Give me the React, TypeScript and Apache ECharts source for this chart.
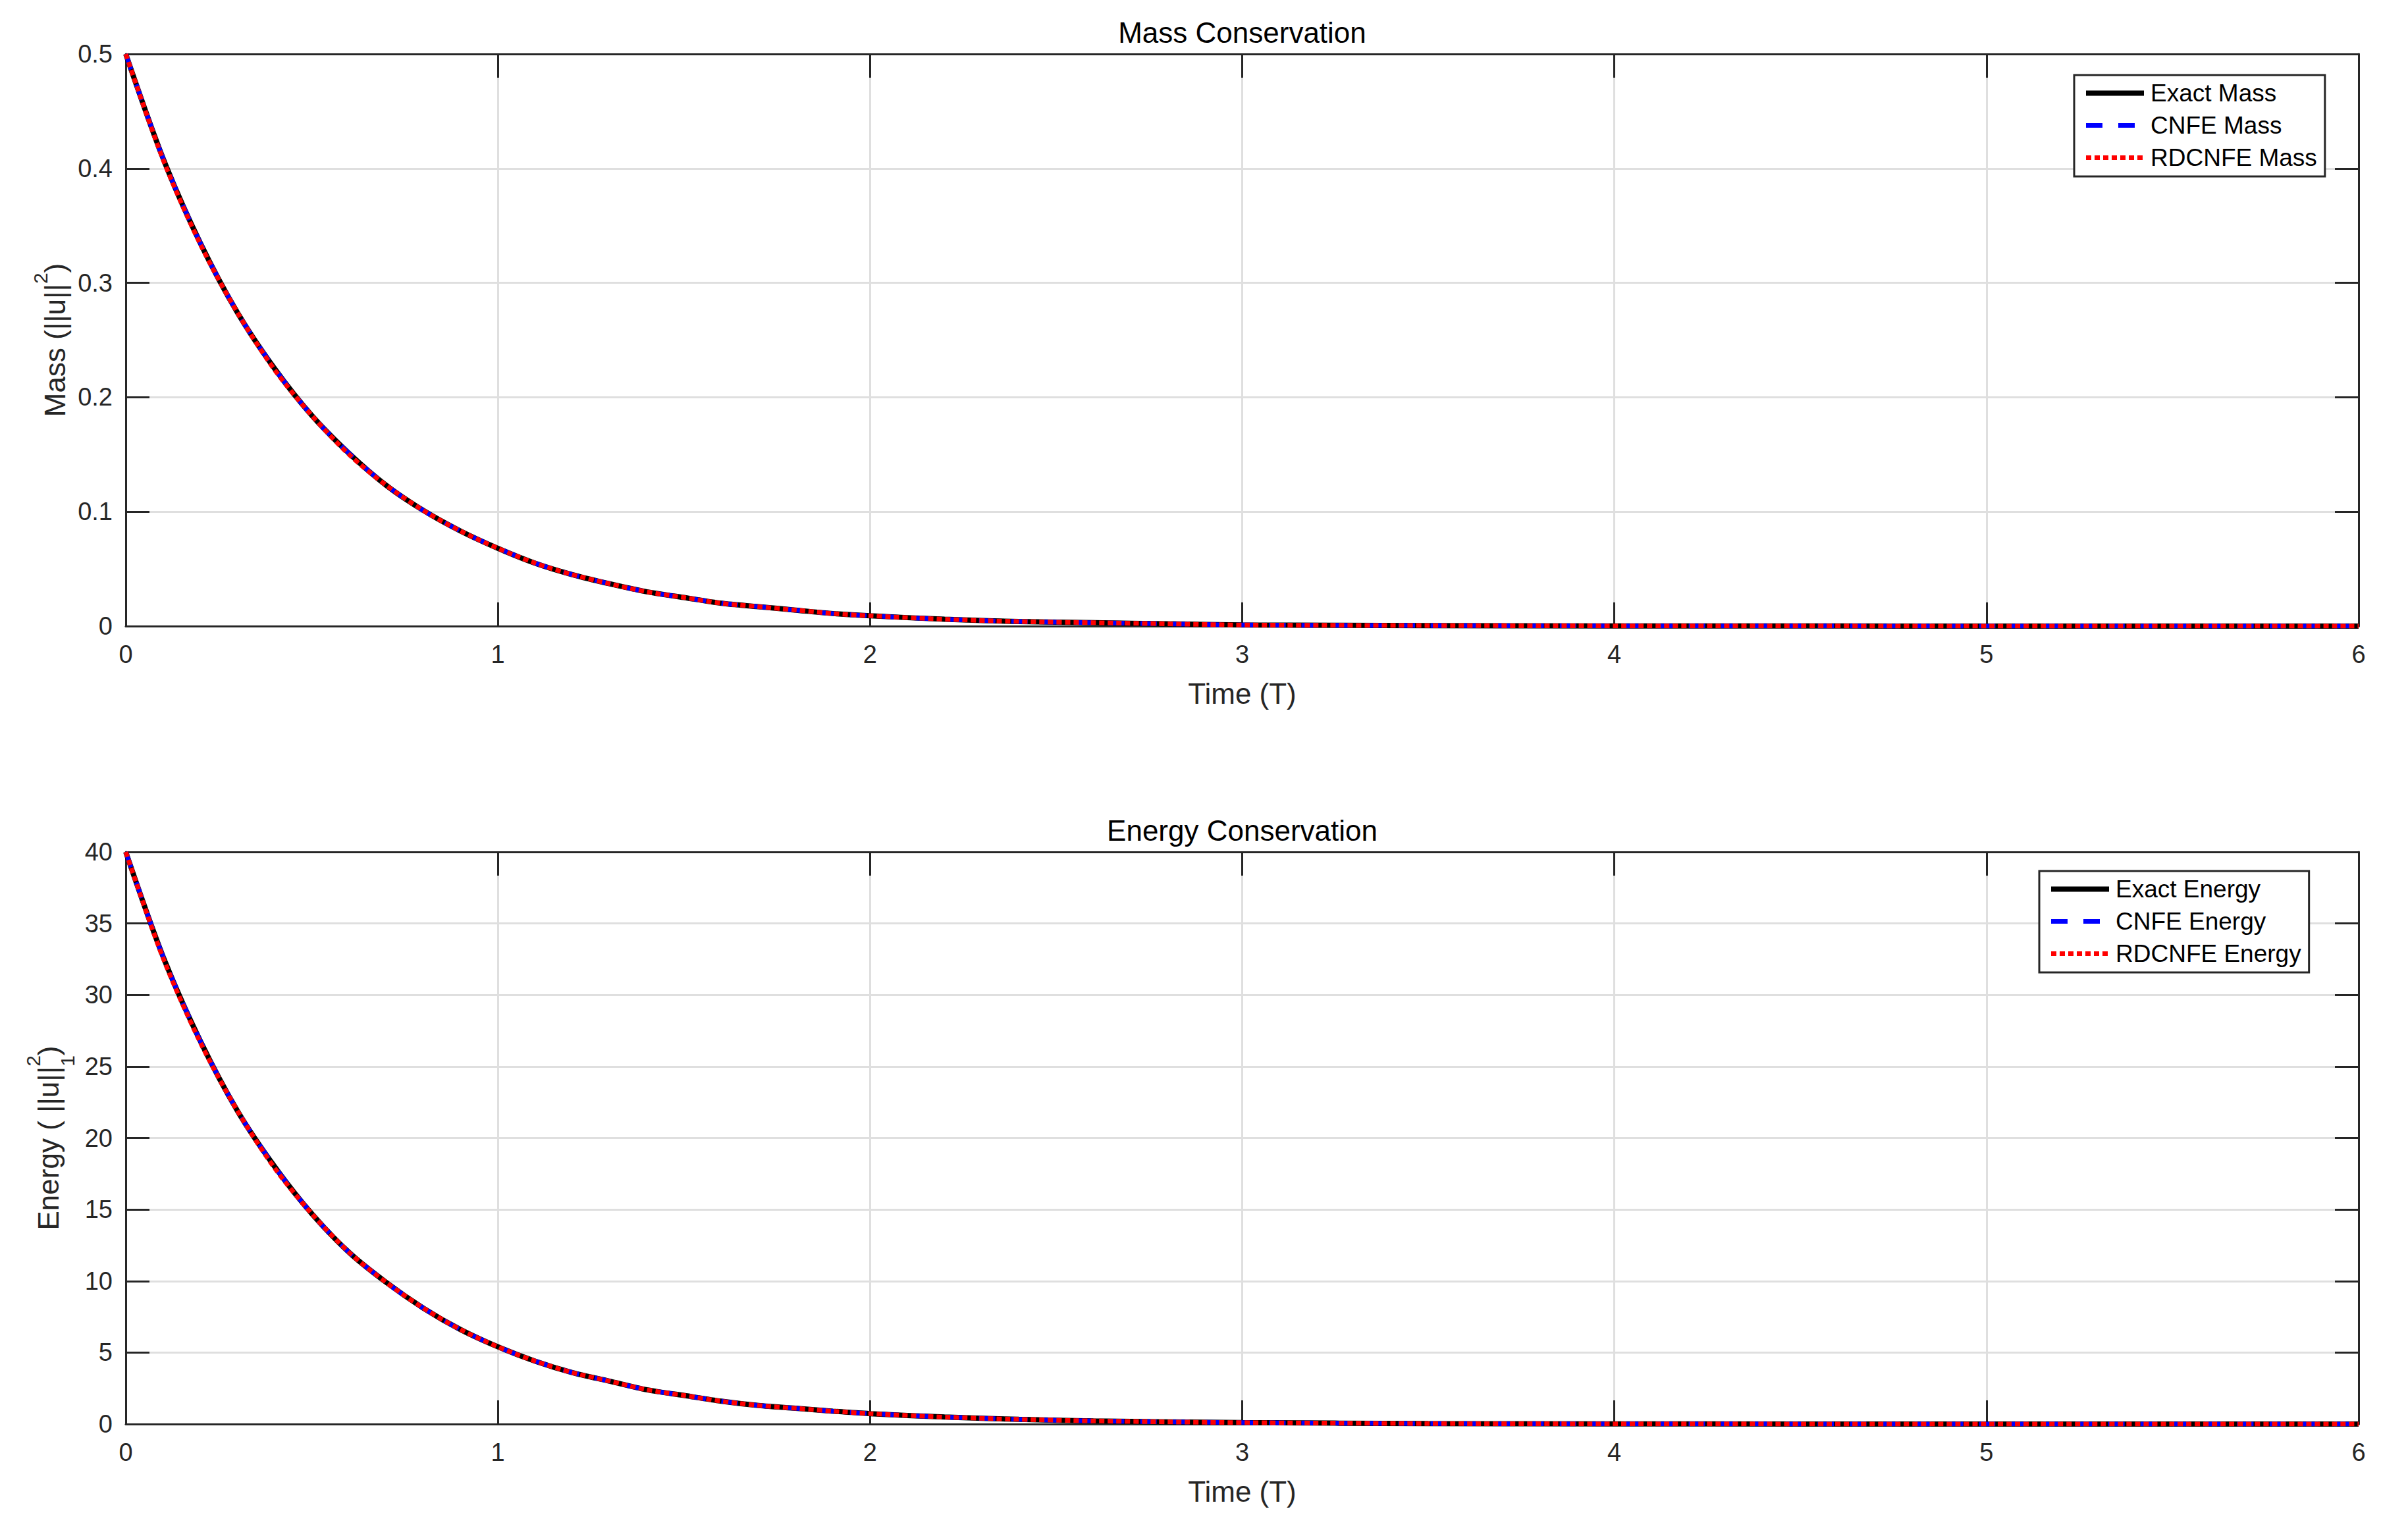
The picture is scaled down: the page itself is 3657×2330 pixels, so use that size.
import React, { useEffect, useRef } from "react";
import * as echarts from "echarts";

// ---------- data ----------
const timeT = [
  0, 0.1, 0.2, 0.3, 0.4, 0.5, 0.6, 0.7, 0.8, 0.9, 1.0, 1.1, 1.2, 1.3, 1.4, 1.5, 1.6, 1.7, 1.8, 1.9, 2.0,
  2.2, 2.4, 2.6, 2.8, 3.0, 3.5, 4.0, 4.5, 5.0, 5.5, 6.0,
];
const exactMass = [
  0.5, 0.409, 0.335, 0.274, 0.225, 0.184, 0.151, 0.123, 0.101, 0.083, 0.068, 0.055, 0.045, 0.037, 0.03, 0.025,
  0.02, 0.017, 0.014, 0.011, 0.009, 0.006, 0.004, 0.003, 0.002, 0.001, 0.0005, 0.0002, 0.0001, 0.00002, 0.00001, 0,
];
const cnfeMass = [
  0.5, 0.409, 0.335, 0.274, 0.225, 0.184, 0.151, 0.123, 0.101, 0.083, 0.068, 0.055, 0.045, 0.037, 0.03, 0.025,
  0.02, 0.017, 0.014, 0.011, 0.009, 0.006, 0.004, 0.003, 0.002, 0.001, 0.0005, 0.0002, 0.0001, 0.00002, 0.00001, 0,
];
const rdcnfeMass = [
  0.5, 0.408, 0.334, 0.274, 0.224, 0.184, 0.150, 0.123, 0.101, 0.083, 0.068, 0.055, 0.045, 0.037, 0.03, 0.025,
  0.02, 0.017, 0.014, 0.011, 0.009, 0.006, 0.004, 0.003, 0.002, 0.001, 0.0005, 0.0002, 0.0001, 0.00002, 0.00001, 0,
];
const exactEnergy = [
  40, 32.7, 26.8, 21.9, 18.0, 14.7, 12.0, 9.9, 8.1, 6.6, 5.4, 4.4, 3.6, 3.0, 2.4, 2.0, 1.6, 1.3, 1.1, 0.9, 0.73,
  0.49, 0.33, 0.22, 0.15, 0.1, 0.036, 0.013, 0.005, 0.002, 0.001, 0,
];
const cnfeEnergy = [
  40, 32.7, 26.8, 21.9, 18.0, 14.7, 12.0, 9.9, 8.1, 6.6, 5.4, 4.4, 3.6, 3.0, 2.4, 2.0, 1.6, 1.3, 1.1, 0.9, 0.73,
  0.49, 0.33, 0.22, 0.15, 0.1, 0.036, 0.013, 0.005, 0.002, 0.001, 0,
];
const rdcnfeEnergy = [
  40, 32.6, 26.7, 21.9, 17.9, 14.7, 12.0, 9.9, 8.1, 6.6, 5.4, 4.4, 3.6, 3.0, 2.4, 2.0, 1.6, 1.3, 1.1, 0.9, 0.73,
  0.49, 0.33, 0.22, 0.15, 0.1, 0.036, 0.013, 0.005, 0.002, 0.001, 0,
];
const massNames = ["Exact Mass", "CNFE Mass", "RDCNFE Mass"];
const energyNames = ["Exact Energy", "CNFE Energy", "RDCNFE Energy"];
const titles = ["Mass Conservation", "Energy Conservation"];
const xLabel = "Time (T)";

// ---------- styling ----------
const W = 3657;
const H = 2330;
const FONT = '"Liberation Sans", Arial, Helvetica, sans-serif';
const AX = "#262626";
const GRID = "#dfdfdf";
const plotLeft = 191;
const plotRight = 3582;
const tops = [82, 1294];
const plotH = 869;

const lineStyles = [
  { color: "#000000", width: 8, type: "solid" as any },
  { color: "#0000ff", width: 7, type: [25, 24] as any },
  { color: "#ff0000", width: 7, type: [8, 5] as any },
];

function pairs(ys: number[]) {
  return timeT.map((t, i) => [t, ys[i]]);
}

function measure(ctx: CanvasRenderingContext2D, text: string, size: number) {
  ctx.font = `${size}px ${FONT}`;
  return ctx.measureText(text).width;
}

type Part = { t: string; size: number; dy: number; noAdvance?: boolean };

function yLabel(ctx: CanvasRenderingContext2D, parts: Part[], baseX: number, centerY: number) {
  let total = 0;
  const widths = parts.map((p) => measure(ctx, p.t, p.size));
  parts.forEach((p, i) => {
    if (!p.noAdvance) total += widths[i];
  });
  let x = -total / 2;
  const children: any[] = [];
  parts.forEach((p, i) => {
    children.push({
      type: "text",
      x,
      y: p.dy,
      style: {
        text: p.t,
        fontSize: p.size,
        fontFamily: FONT,
        fill: AX,
        align: "left",
        verticalAlign: "middle",
        textAlign: "left",
        textVerticalAlign: "middle",
      },
    });
    if (!p.noAdvance) x += widths[i];
  });
  return { type: "group", x: baseX, y: centerY, rotation: Math.PI / 2, children };
}

export default function App() {
  const ref = useRef<HTMLDivElement>(null);
  useEffect(() => {
    if (!ref.current) return;
    const chart = echarts.init(ref.current, undefined, { renderer: "svg", width: W, height: H });
    const canvas = document.createElement("canvas");
    const ctx = canvas.getContext("2d") as CanvasRenderingContext2D;

    const grids = tops.map((t) => ({ left: plotLeft, top: t, width: plotRight - plotLeft, height: plotH, show: false }));

    const xAxes: any[] = [];
    const yAxes: any[] = [];
    const yMax = [0.5, 40];
    const yInt = [0.1, 5];
    [0, 1].forEach((g) => {
      xAxes.push({
        type: "value",
        gridIndex: g,
        min: 0,
        max: 6,
        interval: 1,
        position: "bottom",
        name: xLabel,
        nameLocation: "middle",
        nameGap: 80,
        nameTextStyle: { fontSize: 44, fontFamily: FONT, color: AX },
        axisLine: { show: true, onZero: false, lineStyle: { color: AX, width: 3 } },
        axisTick: { show: true, inside: true, length: 36, lineStyle: { color: AX, width: 3 } },
        axisLabel: { show: true, margin: 24, fontSize: 38, fontFamily: FONT, color: AX },
        splitLine: { show: true, lineStyle: { color: GRID, width: 3 } },
      });
      xAxes.push({
        type: "value",
        gridIndex: g,
        min: 0,
        max: 6,
        interval: 1,
        position: "top",
        axisLine: { show: true, onZero: false, lineStyle: { color: AX, width: 3 } },
        axisTick: { show: true, inside: true, length: 36, lineStyle: { color: AX, width: 3 } },
        axisLabel: { show: false },
        splitLine: { show: false },
      });
      yAxes.push({
        type: "value",
        gridIndex: g,
        min: 0,
        max: yMax[g],
        interval: yInt[g],
        position: "left",
        axisLine: { show: true, onZero: false, lineStyle: { color: AX, width: 3 } },
        axisTick: { show: true, inside: true, length: 36, lineStyle: { color: AX, width: 3 } },
        axisLabel: { show: true, margin: 20, fontSize: 38, fontFamily: FONT, color: AX },
        splitLine: { show: true, lineStyle: { color: GRID, width: 3 } },
      });
      yAxes.push({
        type: "value",
        gridIndex: g,
        min: 0,
        max: yMax[g],
        interval: yInt[g],
        position: "right",
        axisLine: { show: true, onZero: false, lineStyle: { color: AX, width: 3 } },
        axisTick: { show: true, inside: true, length: 36, lineStyle: { color: AX, width: 3 } },
        axisLabel: { show: false },
        splitLine: { show: false },
      });
    });

    const massData = [exactMass, cnfeMass, rdcnfeMass];
    const energyData = [exactEnergy, cnfeEnergy, rdcnfeEnergy];
    const series: any[] = [];
    const addSeries = (names: string[], data: number[][], axisIdx: number) => {
      data.forEach((d, i) => {
        series.push({
          type: "line",
          name: names[i],
          xAxisIndex: axisIdx,
          yAxisIndex: axisIdx,
          data: pairs(d),
          showSymbol: false,
          symbol: "none",
          smooth: 0.3,
          lineStyle: { ...lineStyles[i], cap: "butt" },
          color: lineStyles[i].color,
          z: 3 + i,
        });
      });
    };
    addSeries(massNames, massData, 0);
    addSeries(energyNames, energyData, 2);

    const legendData = (names: string[]) =>
      names.map((n, i) => ({
        name: n,
        lineStyle: { color: lineStyles[i].color, width: lineStyles[i].width, type: lineStyles[i].type, cap: "butt", opacity: 1 },
        itemStyle: { opacity: 0 },
      }));

    const legendCommon = {
      orient: "vertical",
      itemWidth: 88,
      itemHeight: 40,
      itemGap: 12,
      padding: [9, 12, 10, 14],
      borderWidth: 3,
      borderColor: AX,
      backgroundColor: "#ffffff",
      borderRadius: 0,
      textStyle: { fontSize: 37, fontFamily: FONT, color: "#000", padding: [0, 0, 0, 5] },
      itemStyle: { opacity: 0 },
      selectedMode: false,
    };

    const graphic: any[] = [
      yLabel(
        ctx,
        [
          { t: "Mass (||u||", size: 44, dy: -15 },
          { t: "2", size: 30, dy: -37 },
          { t: ")", size: 44, dy: -15 },
        ],
        98,
        tops[0] + plotH / 2
      ),
      yLabel(
        ctx,
        [
          { t: "Energy ( ||u||", size: 44, dy: -15 },
          { t: "2", size: 30, dy: -38, noAdvance: true },
          { t: "1", size: 30, dy: 14 },
          { t: ")", size: 44, dy: -15 },
        ],
        88,
        tops[1] + plotH / 2
      ),
    ];

    chart.setOption({
      animation: false,
      backgroundColor: "#ffffff",
      title: titles.map((t, i) => ({
        text: t,
        left: (plotLeft + plotRight) / 2,
        textAlign: "center",
        top: tops[i] - 55,
        textStyle: { fontSize: 44, fontWeight: "normal", fontFamily: FONT, color: "#000" },
        padding: 0,
      })),
      grid: grids,
      xAxis: xAxes,
      yAxis: yAxes,
      legend: [
        { ...legendCommon, data: legendData(massNames), left: 3150, top: 114 },
        { ...legendCommon, data: legendData(energyNames), left: 3097, top: 1323 },
      ],
      series,
      graphic,
    });
    return () => chart.dispose();
  }, []);
  return <div ref={ref} style={{ position: "fixed", left: 0, top: 0, width: W, height: H }} />;
}
